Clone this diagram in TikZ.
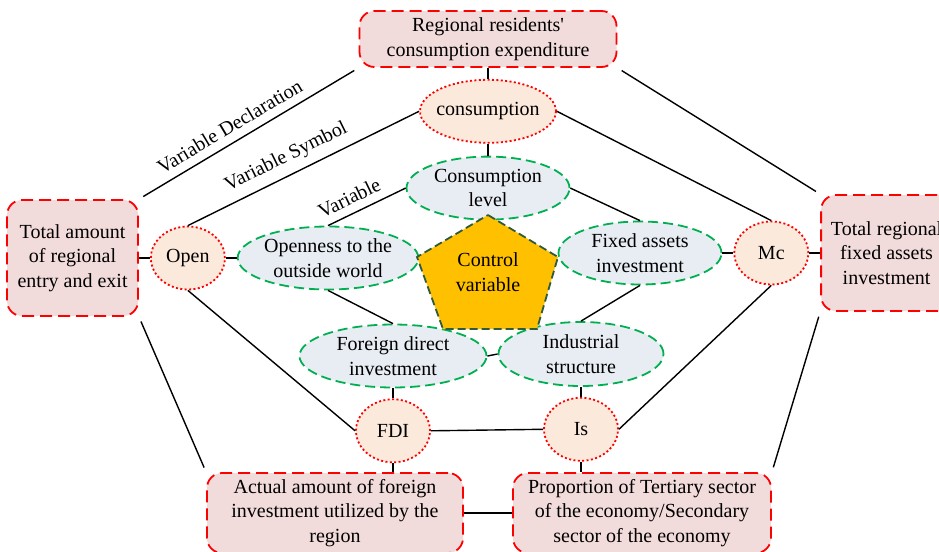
\documentclass[tikz,border=0pt]{standalone}
\usepackage{fontspec}
\setmainfont{Liberation Serif}
\usetikzlibrary{shapes,positioning}
\definecolor{declfill}{HTML}{F2DCDB}
\definecolor{symbfill}{HTML}{FBE9DB}
\definecolor{varfill}{HTML}{E8EDF4}
\definecolor{vargreen}{HTML}{00B050}
\definecolor{ctrlfill}{HTML}{FFC000}
\definecolor{ctrldraw}{HTML}{2F5A3C}

\begin{document}
\begin{tikzpicture}[x=0.5pt,y=-0.5pt]

  \tikzset{main node/.style={align=center, inner sep=0pt,
  		font=\fontsize{10}{12.3}\selectfont}, }
  \tikzset{decl node/.style={main node, rectangle, rounded corners=7.5pt,
  		draw=red, fill=declfill, line width=0.9pt, dash pattern=on 6pt off 3pt}, }
  \tikzset{symb node/.style={main node, ellipse, draw=red, fill=symbfill,
  		line width=0.9pt, dash pattern=on 1pt off 1.2pt,
  		minimum width=37pt, minimum height=31.5pt}, }
  \tikzset{var node/.style={main node, ellipse, draw=vargreen, fill=varfill,
  		line width=0.9pt, dash pattern=on 5pt off 2.5pt, minimum height=31.5pt}, }
  \tikzset{linea/.style={line width=0.7pt}, }
  \tikzset{cornera/.style={linea, shorten <=2.5pt, shorten >=2.5pt}, }
  \useasboundingbox (0,0) rectangle (939,552);
\node[decl node, minimum width=128.5pt, minimum height=28pt] (1) at (488,39) {Regional residents\textquotesingle\\consumption expenditure};
\node[symb node, minimum width=68pt, inner xsep=-2pt] (2) [below=5.5pt of 1] {consumption};
\node[var node, minimum width=81.5pt] (3) [below=6pt of 2] {Consumption\\level};
\node[var node, minimum width=88.5pt] (4) at (328,258) {Openness to the\\outside world};
\node[var node, minimum width=81.5pt] (5) at (640,253) {Fixed assets\\investment};
\node[var node, minimum width=93.5pt] (6) at (393,356) {Foreign direct\\investment};
\node[var node, minimum width=82.5pt, minimum height=32pt] (7) at (581,354) {Industrial\\structure};
\node[symb node] (8) [left=5.5pt of 4] {Open};
\node[symb node] (9) [right=5.5pt of 5] {Mc};
\node[symb node] (10) [below=5pt of 6] {FDI};
\node[symb node] (11) [below=5pt of 7] {Is};
\node[decl node, minimum width=65.5pt, minimum height=58pt] (12) [left=5.5pt of 8] {Total amount\\of regional\\entry and exit};
\node[decl node, minimum width=65.5pt, minimum height=58pt] (13) [right=5.5pt of 9] {Total regional\\fixed assets\\investment};
\node[decl node, minimum width=128pt, minimum height=40pt] (14) at (335,513) {Actual amount of foreign\\investment utilized by the\\region};
\node[decl node, minimum width=129pt, minimum height=40pt] (15) at (642,513) {Proportion of Tertiary sector\\of the economy/Secondary\\sector of the economy};
%% control variable
\filldraw[fill=ctrlfill, draw=ctrldraw, line width=0.9pt, dash pattern=on 4pt off 2pt]
  (488,215) -- (558,257) -- (537,329) -- (443,329) -- (417,257) -- cycle;
\node[main node] (16) at (488,272) {Control\\variable};

\foreach \x /\y in{1.south/2.north,2.south/3.north,6.south/10.north,7.south/11.north,
  12.east/8.west,8.east/4.west,5.east/9.west,9.east/13.west,6.east/7.west,10.east/11.west,14.east/15.west,
  2.east/9.north,3.east/5.north,5.south/7.north,4.south/6.north,8.south/10.west,9.south/11.east}
  \draw[linea] (\x) -- (\y);
\draw[linea] (10.south) -- (10.south |- 14.north);
\draw[linea] (11.south) -- (11.south |- 15.north);
\foreach \x /\y in{1.south east/13.north west,12.south east/14.north west,13.south west/15.north east}
  \draw[cornera] (\x) -- (\y);
\draw[cornera] (12.north east) -- node[main node, sloped, above=4pt, pos=0.45] {Variable Declaration} (1.south west);
\draw[linea] (8.north) -- node[main node, sloped, above=4pt, pos=0.46] {Variable Symbol} (2.west);
\draw[linea] (4.north) -- node[main node, sloped, above=4pt, pos=0.36] {Variable} (3.west);
%%
\end{tikzpicture}
\end{document}
